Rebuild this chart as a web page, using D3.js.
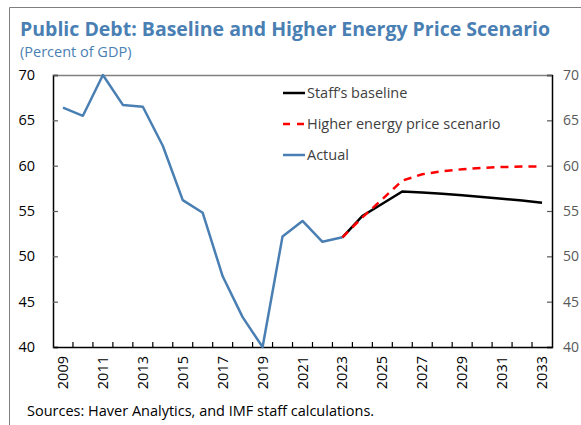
<!DOCTYPE html>
<html>
<head>
<meta charset="utf-8">
<script src="https://cdn.jsdelivr.net/npm/d3@7"></script>
<style>
  html, body { margin: 0; padding: 0; background: #fff; }
  svg { display: block; }
  text { font-family: "Open Sans", "Noto Sans", sans-serif; }
</style>
</head>
<body>
<svg id="chart" width="581" height="425"></svg>
<script>
const years = [2009,2010,2011,2012,2013,2014,2015,2016,2017,2018,2019,2020,2021,2022,2023,2024,2025,2026,2027,2028,2029,2030,2031,2032,2033];
const tickYears = [2009,2011,2013,2015,2017,2019,2021,2023,2025,2027,2029,2031,2033];
const yTicks = [40,45,50,55,60,65,70];
const actualYears = [2009,2010,2011,2012,2013,2014,2015,2016,2017,2018,2019,2020,2021,2022,2023];
const actualValues = [66.4,65.5,70.0,66.7,66.5,62.2,56.2,54.8,47.8,43.3,40.0,52.2,53.9,51.6,52.1];
const projYears = [2023,2024,2025,2026,2027,2028,2029,2030,2031,2032,2033];
const baselineValues = [52.1,54.45,55.8,57.15,57.05,56.9,56.75,56.55,56.35,56.15,55.9];
const higherValues = [52.1,54.3,56.3,58.35,59.05,59.4,59.6,59.75,59.85,59.9,59.9];
const legendLabels = ["Staff\u2019s baseline","Higher energy price scenario","Actual"];

const svg = d3.select("#chart");
const L = 53, R = 552, T = 75, B = 347;

// outer frame
svg.append("line").attr("x1",9.5).attr("x2",581).attr("y1",7.5).attr("y2",7.5).attr("stroke","#7f7f7f").attr("stroke-width",1);
svg.append("line").attr("x1",9.5).attr("x2",9.5).attr("y1",7.5).attr("y2",425).attr("stroke","#7f7f7f").attr("stroke-width",1);

// titles
svg.append("text").attr("x",20).attr("y",36).attr("fill","#4a7fb3")
  .attr("font-size",19.5).attr("font-weight",700)
  .text("Public Debt: Baseline and Higher Energy Price Scenario");
svg.append("text").attr("x",20).attr("y",57).attr("fill","#4a7fb3")
  .attr("font-size",14.5).text("(Percent of GDP)");
svg.append("text").attr("x",27).attr("y",416).attr("fill","#000")
  .attr("font-size",14.5).text("Sources: Haver Analytics, and IMF staff calculations.");

const x = d3.scaleBand().domain(years).range([L, R]);
const cx = d => x(d) + x.bandwidth()/2;
const y = d3.scaleLinear().domain([40,70]).range([B, T]);

// top border
svg.append("line").attr("x1",L).attr("x2",R).attr("y1",T+0.5).attr("y2",T+0.5).attr("stroke","#808080").attr("stroke-width",1.5);

// left axis
const yl = svg.append("g").attr("transform",`translate(${L},0)`)
  .call(d3.axisLeft(y).tickValues(yTicks).tickSize(-5).tickPadding(18));
yl.select(".domain").attr("stroke","#000").attr("stroke-width",1.5);
yl.selectAll(".tick line").attr("stroke","#595959").attr("stroke-width",1.2);
yl.selectAll("text").attr("font-size",14.5).attr("fill","#000").attr("font-family","'Open Sans', sans-serif");

// right axis
const yr = svg.append("g").attr("transform",`translate(${R},0)`)
  .call(d3.axisRight(y).tickValues(yTicks).tickSize(-5).tickPadding(11));
yr.select(".domain").attr("stroke","#000").attr("stroke-width",1.5);
yr.selectAll(".tick line").attr("stroke","#595959").attr("stroke-width",1.2);
yr.selectAll("text").attr("font-size",14).attr("fill","#595959").attr("font-family","'Open Sans', sans-serif");

// bottom axis
const xa = svg.append("g").attr("transform",`translate(0,${B})`)
  .call(d3.axisBottom(x).tickValues([]).tickSize(0));
xa.select(".domain").attr("stroke","#000").attr("stroke-width",1.5);
// band boundary ticks
const bounds = years.slice(1).map(d => x(d));
svg.append("g").selectAll("line").data(bounds).join("line")
  .attr("x1",d=>d).attr("x2",d=>d).attr("y1",B).attr("y2",B-5)
  .attr("stroke","#000").attr("stroke-width",1.2);
svg.append("g").selectAll("text").data(tickYears).join("text")
  .attr("transform",d=>`translate(${cx(d)+5},${B+9}) rotate(-90)`)
  .attr("text-anchor","end").attr("font-size",14.5).attr("fill","#000")
  .text(d=>d);

const line = d3.line().x(d=>cx(d[0])).y(d=>y(d[1]));

svg.append("path").datum(actualYears.map((d,i)=>[d,actualValues[i]]))
  .attr("d",line).attr("fill","none").attr("stroke","#4a7fb3").attr("stroke-width",2.5).attr("stroke-linejoin","round");
svg.append("path").datum(projYears.map((d,i)=>[d,baselineValues[i]]))
  .attr("d",line).attr("fill","none").attr("stroke","#000").attr("stroke-width",2.5);
svg.append("path").datum(projYears.map((d,i)=>[d,higherValues[i]]))
  .attr("d",line).attr("fill","none").attr("stroke","#ff0000").attr("stroke-width",2.5).attr("stroke-dasharray","8,6");

// legend
const legColors = ["#000","#ff0000","#4a7fb3"];
const legDash = [null,"7,7",null];
const lg = svg.append("g");
legendLabels.forEach((lab,i)=>{
  const yy = 93 + i*31;
  lg.append("line").attr("x1",283).attr("x2",305).attr("y1",yy).attr("y2",yy)
    .attr("stroke",legColors[i]).attr("stroke-width",2.5).attr("stroke-dasharray",legDash[i]);
  lg.append("text").attr("x",307).attr("y",yy+5).attr("font-size",14.5).attr("fill","#404040").text(lab);
});
</script>
</body>
</html>
